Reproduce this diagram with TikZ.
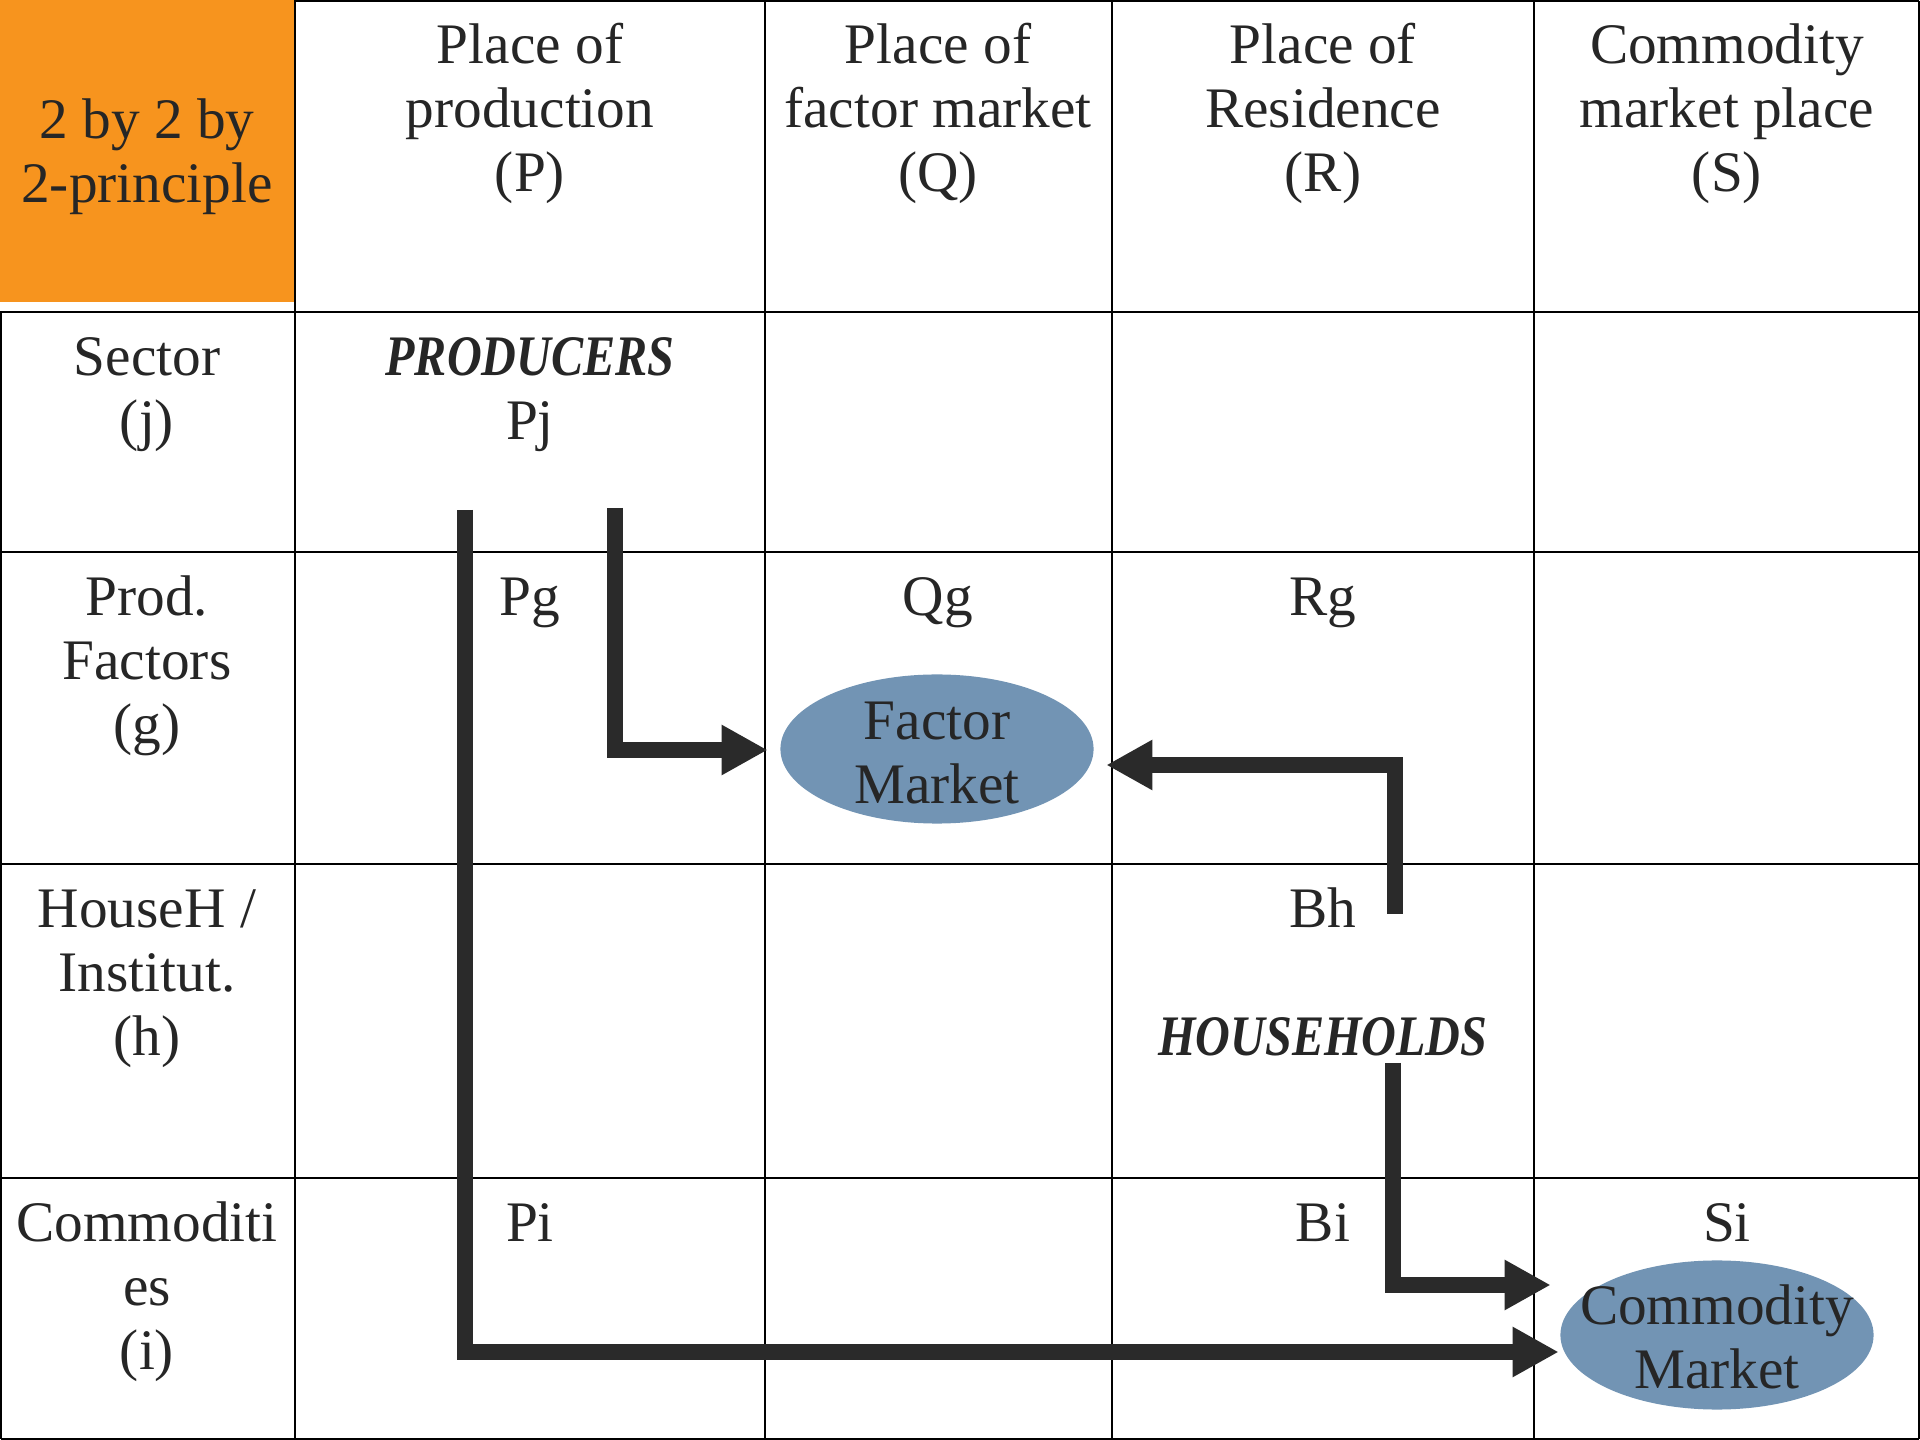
\documentclass[tikz,border=0pt]{standalone}
\usepackage{fontspec}
\usepackage{graphicx}
\setmainfont{Liberation Serif}
\usetikzlibrary{arrows.meta,shapes.geometric,calc}
\definecolor{orangecell}{HTML}{F7941E}
\definecolor{ellblue}{HTML}{7294B4}
\definecolor{txt}{HTML}{262626}
\definecolor{arrowc}{HTML}{2A2A2A}
\newcommand{\bihead}[1]{\scalebox{0.84}[1]{\textbf{\textit{#1}}}}
\begin{document}
\begin{tikzpicture}[x=0.01cm,y=-0.01cm,
  gridline/.style={line width=0.65pt, draw=black},
  celltext/.style={anchor=north, inner sep=0pt, align=center, text=txt,
    font=\fontsize{16.3pt}{18.2pt}\selectfont},
  market/.style={ellipse, fill=ellblue, draw=none, minimum width=3.13cm,
    minimum height=1.49cm, inner sep=0pt},
  markettext/.style={inner sep=0pt, align=center, text=txt,
    font=\fontsize{16.3pt}{18.2pt}\selectfont},
  flow/.style={draw=arrowc, line width=0.16cm, line join=miter, line cap=butt,
    -{Triangle[length=0.46cm,width=0.47cm]}},
]
\useasboundingbox (0,0) rectangle (1920,1440);
\fill[white] (0,0) rectangle (1920,1440);
\fill[orangecell] (0,0) rectangle (294,302);

% grid
\draw[gridline] (295,1) -- (1919,1);
\draw[gridline] (1,312) -- (1,1439);
\draw[gridline] (1919,1) -- (1919,1439);
\draw[gridline] (1,1439) -- (1919,1439);
\foreach \gx in {295,765,1112,1534} \draw[gridline] (\gx,0) -- (\gx,1440);
\foreach \gy in {312,552,864,1178} \draw[gridline] (0,\gy) -- (1920,\gy);

% header row
\node[celltext] (h0) at (147,93) {\strut 2 by 2 by\\2-principle};
\node[celltext] (hP) at (530,18) {\strut Place of\\production\\(P)};
\node[celltext] (hQ) at (938,18) {\strut Place of\\factor market\\(Q)};
\node[celltext] (hR) at (1323,18) {\strut Place of\\Residence\\(R)};
\node[celltext] (hS) at (1727,18) {\strut Commodity\\market place\\(S)};

% row j
\node[celltext] (lj) at (147,330) {\strut Sector\\(j)};
\node[celltext] (prod) at (530,330) {\strut\bihead{PRODUCERS}\\Pj};

% row g
\node[celltext] (lg) at (147,570) {\strut Prod.\\Factors\\(g)};
\node[celltext] (pg) at (530,570) {\strut Pg};
\node[celltext] (qg) at (938,570) {\strut Qg};
\node[celltext] (rg) at (1323,570) {\strut Rg};

% row h
\node[celltext] (lh) at (147,882) {\strut HouseH /\\Institut.\\(h)};
\node[celltext] (bh) at (1323,882) {\strut Bh\\\strut\\\bihead{HOUSEHOLDS}};

% row i
\node[celltext] (li) at (147,1196) {\strut Commoditi\\es\\(i)};
\node[celltext] (pi) at (530,1196) {\strut Pi};
\node[celltext] (bi) at (1323,1196) {\strut Bi};
\node[celltext] (si) at (1727,1196) {\strut Si};

% markets
\node[market] (fm) at (937,749) {};
\node[markettext] (fmt) at ($(fm.center)+(0,4)$) {Factor\\Market};
\node[market] (cm) at (1717,1335) {};
\node[markettext] (cmt) at ($(cm.center)+(0,2)$) {Commodity\\Market};

% flows
\coordinate (s1) at (615,508);
\coordinate (k1) at (615,750);
\draw[flow, shorten >=0.12cm] (s1) -- (k1) -- (fm.west |- k1);

\coordinate (s2) at (1395,914);
\coordinate (k2) at (1395,765);
\draw[flow, shorten >=0.12cm] (s2) -- (k2) -- (fm.east |- k2);

\coordinate (s3) at (1393,1063);
\coordinate (k3) at (1393,1285);
\draw[flow, shorten >=0.09cm] (s3) -- (k3) -- (cm.west |- k3);

\coordinate (s4) at (465,510);
\coordinate (k4) at (465,1352);
\draw[flow, shorten >=0.01cm] (s4) -- (k4) -- (cm.west |- k4);
\end{tikzpicture}
\end{document}
